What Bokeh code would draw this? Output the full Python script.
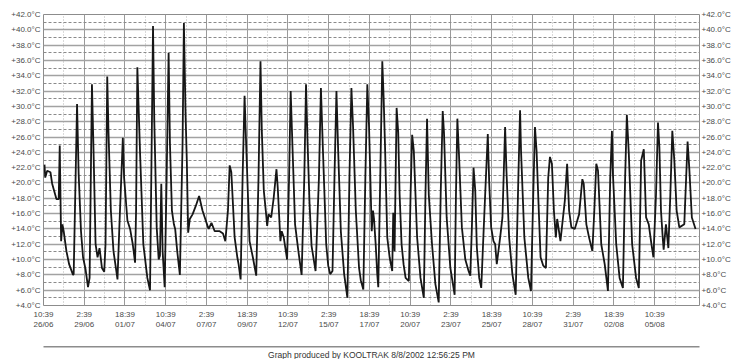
from bokeh.plotting import figure
from bokeh.layouts import column
from bokeh.models import FixedTicker, Range1d, LinearAxis
from bokeh.core.properties import value
from bokeh.embed import file_html
from bokeh.resources import INLINE

# hours elapsed since 26/06 10:39
hours = [
    1.6, 2.7, 5.8, 10.9, 13.6, 20.3, 23.9, 25.5, 27.7, 29.7,
    31.7, 36.0, 40.2, 46.4, 47.4, 52.7, 55.2, 58.9, 62.1, 66.1,
    69.9, 72.4, 76.1, 78.6, 81.8, 84.9, 88.0, 91.8, 95.4, 97.4,
    100.1, 102.1, 105.8, 109.9, 113.7, 116.2, 119.3, 124.6, 126.6, 131.8,
    136.0, 140.2, 143.8, 145.4, 147.4, 151.7, 156.8, 163.1, 167.3, 169.3,
    172.0, 174.0, 177.8, 180.9, 182.9, 185.0, 187.1, 190.3, 193.4, 196.5,
    198.6, 201.7, 204.8, 206.8, 210.0, 214.2, 218.4, 220.5, 223.1, 225.1,
    227.2, 229.8, 234.1, 239.2, 244.4, 249.7, 253.3, 258.4,
    259.5, 263.8, 268.9, 276.7, 281.9, 285.6, 289.7, 292.4, 295.0, 300.2,
    304.4, 306.4, 309.6, 312.7, 315.8, 317.9, 323.6, 328.8, 334.1, 337.7,
    340.8, 342.9, 346.0, 349.1, 351.3, 353.4, 357.6, 361.6, 365.9, 367.9,
    372.1, 374.1, 377.3, 382.6, 385.7, 388.2, 390.9, 395.1, 400.3, 405.4,
    409.6, 412.3, 414.8, 417.9, 421.0, 427.3, 432.6, 435.7, 438.9, 444.0,
    447.2, 450.3, 453.9, 457.0, 460.1, 462.8, 467.0, 472.2, 477.3, 480.5,
    483.6, 486.2, 490.5, 495.6, 498.3, 502.3, 505.5, 508.6, 511.3,
    515.5, 517.5, 519.1, 521.7, 524.2, 525.8, 528.9, 532.1, 534.2, 536.3,
    539.9, 543.6, 547.7, 549.3, 551.4, 554.6, 557.1, 559.3, 562.4, 565.5,
    568.7, 573.8, 576.5, 579.0, 581.6, 586.8, 592.1, 597.3, 599.9, 602.4,
    605.1, 610.2, 615.5, 620.7, 623.8, 627.0, 629.0, 633.2, 639.0, 645.7,
    647.8, 650.0, 652.5, 657.1, 662.5, 667.6, 670.3, 672.8, 675.4, 678.1,
    680.6, 684.3, 687.5, 692.6, 697.8, 700.0, 703.1, 706.7, 709.4, 711.9,
    717.2, 720.8, 725.0, 727.1, 731.3, 736.4, 741.6, 745.8, 748.5, 750.0,
    755.2, 761.4, 765.6, 769.2, 771.9, 774.4,
    777.1, 780.7, 784.9, 789.1, 792.7, 795.4, 798.5, 801.6, 804.7, 806.8,
    811.9, 818.8, 822.4, 825.5, 829.1, 834.4, 841.2, 846.3, 848.5, 852.6,
    856.8, 862.0, 865.1, 868.2, 870.9, 876.0, 881.4, 886.5, 890.1, 892.8,
    894.3, 899.5, 904.8, 910.0, 913.5, 916.2, 919.3, 924.5, 930.7, 935.0,
    938.6, 942.8, 946.4, 950.6, 954.8, 957.9, 962.0, 965.1, 967.3, 969.8,
    972.5, 974.0, 977.6, 981.4, 984.5, 987.6, 990.8, 994.4, 998.6, 1006.4,
    1011.6, 1014.2, 1018.3, 1024.1,
]

temps = [
    22.4, 20.7, 21.6, 21.4, 19.9, 17.9, 17.9, 24.9, 12.4, 14.6,
    13.7, 11.1, 9.4, 8.0, 8.1, 30.3, 21.2, 13.7, 10.3, 8.7,
    6.4, 7.6, 32.9, 24.2, 12.0, 10.3, 11.5, 8.9, 8.4, 12.0,
    33.9, 26.6, 16.4, 11.1, 8.9, 7.4, 14.6, 25.9, 20.7, 15.1,
    14.0, 12.0, 9.6, 16.4, 35.1, 23.8, 12.0, 7.6, 6.0, 20.7,
    40.5, 28.2, 14.2, 10.0, 10.5, 19.9, 11.1, 6.4, 20.7, 37.0,
    25.1, 16.4, 14.6, 14.0, 11.1, 8.0, 25.1, 40.9, 29.0, 22.9,
    13.5, 15.3, 15.9, 17.0, 18.3, 16.4, 15.5, 14.2,
    14.0, 14.8, 13.7, 13.7, 13.4, 12.4, 16.4, 22.3, 21.4, 12.9,
    10.3, 9.4, 7.4, 20.7, 31.4, 26.0, 12.4, 10.3, 7.9, 20.7,
    35.9, 26.8, 19.0, 16.4, 14.4, 15.9, 15.5, 18.1, 21.8, 19.4,
    12.4, 13.7, 12.9, 10.0, 20.7, 32.0, 25.1, 14.6, 11.1, 8.0,
    20.7, 32.9, 25.1, 17.2, 11.8, 8.5, 20.7, 32.4, 24.2, 12.0,
    9.2, 8.1, 8.5, 20.7, 32.0, 24.2, 13.7, 8.1, 5.0, 20.7,
    32.4, 27.3, 16.4, 8.9, 7.3, 6.1, 20.7, 32.9, 27.3,
    13.7, 16.4, 15.3, 12.0, 8.1, 6.4, 20.7, 35.9, 31.2, 25.1,
    12.9, 10.3, 8.5, 16.1, 11.1, 29.8, 26.6, 18.5, 12.0, 9.4,
    7.6, 7.2, 18.5, 26.3, 24.2, 12.9, 7.6, 5.0, 18.5, 28.4,
    18.5, 12.0, 6.8, 4.4, 18.5, 29.4, 26.6, 15.5, 8.9, 5.4,
    18.5, 28.4, 23.8, 14.2, 10.0, 8.5, 7.9, 14.2, 22.0, 19.0,
    11.6, 7.6, 6.3, 16.4, 26.4, 20.1, 14.2, 12.4, 12.0, 9.4,
    12.9, 15.5, 27.3, 21.6, 12.9, 8.1, 5.4, 20.7, 29.5, 24.2,
    12.9, 7.6, 5.9, 18.5, 27.3, 24.2,
    18.1, 10.3, 9.2, 8.9, 20.7, 23.4, 22.5, 16.4, 12.9, 15.3,
    12.4, 17.7, 22.5, 16.4, 14.2, 14.0, 15.9, 20.5, 19.9, 14.6,
    12.9, 11.1, 16.4, 22.5, 21.6, 12.0, 9.4, 5.9, 20.7, 26.8,
    21.2, 12.0, 7.6, 6.3, 20.7, 28.9, 23.8, 12.0, 7.6, 6.3,
    22.9, 24.4, 15.5, 14.6, 12.0, 10.3, 18.5, 27.9, 24.7, 16.4,
    12.9, 11.3, 14.6, 11.5, 18.5, 26.8, 22.9, 16.4, 14.2, 14.6,
    25.4, 22.0, 15.5, 14.0,
]

x_tick_hours = [0, 64, 128, 192, 256, 320, 384, 448, 512, 576, 640, 704, 768, 832, 896, 960]
x_tick_labels = ["10:39\n26/06", "2:39\n29/06", "18:39\n01/07", "10:39\n04/07",
                 "2:39\n07/07", "18:39\n09/07", "10:39\n12/07", "2:39\n15/07",
                 "18:39\n17/07", "10:39\n20/07", "2:39\n23/07", "18:39\n25/07",
                 "10:39\n28/07", "2:39\n31/07", "18:39\n02/08", "10:39\n05/08"]
y_ticks = [4, 6, 8, 10, 12, 14, 16, 18, 20, 22, 24, 26, 28, 30, 32, 34, 36, 38, 40, 42]
y_tick_labels = ["+%.1f°C" % v for v in y_ticks]
footer_text = "Graph produced by KOOLTRAK 8/8/2002 12:56:25 PM"

FONT = "Liberation Sans"
LABEL_COLOR = "#4a4a4a"
W = 733
H_MAIN, H_FOOT = 346, 13
LEFT, RIGHT, TOP, BOTTOM = 43, 31, 14, 41

p = figure(width=W, height=H_MAIN, output_backend="svg", toolbar_location=None,
           title=None,
           x_range=Range1d(0, 1030.3), y_range=Range1d(4, 42),
           min_border_left=LEFT, min_border_right=RIGHT,
           min_border_top=TOP, min_border_bottom=BOTTOM,
           background_fill_color="white", border_fill_color="white")
p.outline_line_color = "#8c8c8c"
p.outline_line_width = 1

y_minor = [v + 1 for v in y_ticks[:-1]]
x_minor = [t + (x_tick_hours[1] - x_tick_hours[0]) / 2 for t in x_tick_hours]

p.add_layout(LinearAxis(), "right")

for ax in p.axis:
    ax.axis_line_color = None
    ax.major_tick_line_color = None
    ax.minor_tick_line_color = None
    ax.major_tick_out = 0
    ax.major_tick_in = 0
    ax.minor_tick_out = 0
    ax.minor_tick_in = 0
    ax.major_label_text_font = FONT
    ax.major_label_text_font_size = "8px"
    ax.major_label_text_color = LABEL_COLOR

p.xaxis.ticker = FixedTicker(ticks=x_tick_hours, minor_ticks=x_minor)
p.xaxis.major_label_overrides = {t: l for t, l in zip(x_tick_hours, x_tick_labels)}
p.xaxis.major_label_standoff = 4

for ax in p.yaxis:
    ax.ticker = FixedTicker(ticks=y_ticks, minor_ticks=y_minor)
    ax.major_label_overrides = {t: l for t, l in zip(y_ticks, y_tick_labels)}
p.yaxis[0].major_label_standoff = 3
p.yaxis[1].major_label_standoff = 2

# grids
p.xgrid.grid_line_color = "#9a9a9a"
p.xgrid.grid_line_width = 1
p.xgrid.minor_grid_line_color = "#b4b4b4"
p.xgrid.minor_grid_line_dash = "1 2"
p.xgrid.minor_grid_line_width = 1
p.ygrid.grid_line_color = "#a2a2a2"
p.ygrid.grid_line_width = 1.7
p.ygrid.minor_grid_line_color = "#8a8a8a"
p.ygrid.minor_grid_line_dash = "3 2"
p.ygrid.minor_grid_line_width = 1

# data line
p.line(hours, temps, line_color="#161616", line_width=1.8)

# footer strip: an empty "above" axis supplies the grey separator rule
f = figure(width=W, height=H_FOOT, output_backend="svg", toolbar_location=None,
           title=None,
           x_range=Range1d(0, 1), y_range=Range1d(0, 1),
           x_axis_location="above", y_axis_type=None, min_border=0,
           background_fill_color="white", border_fill_color="white")
f.outline_line_color = None
f.grid.visible = False
f.xaxis.ticker = FixedTicker(ticks=[])
f.xaxis.major_tick_out = 0
f.xaxis.major_tick_in = 0
f.xaxis.minor_tick_out = 0
f.xaxis.minor_tick_in = 0
f.xaxis.major_label_standoff = 0
f.xaxis.major_label_text_color = None
f.xaxis.axis_line_color = "#8c8c8c"
f.xaxis.axis_line_width = 2
f.text(x=[0.5], y=[-0.02], text=[footer_text], text_align="center", text_baseline="bottom",
       text_font=value(FONT), text_font_size="8.5px", text_color="#333333")

layout = column(p, f, spacing=0)

open("out.html", "w").write(file_html(layout, INLINE))
